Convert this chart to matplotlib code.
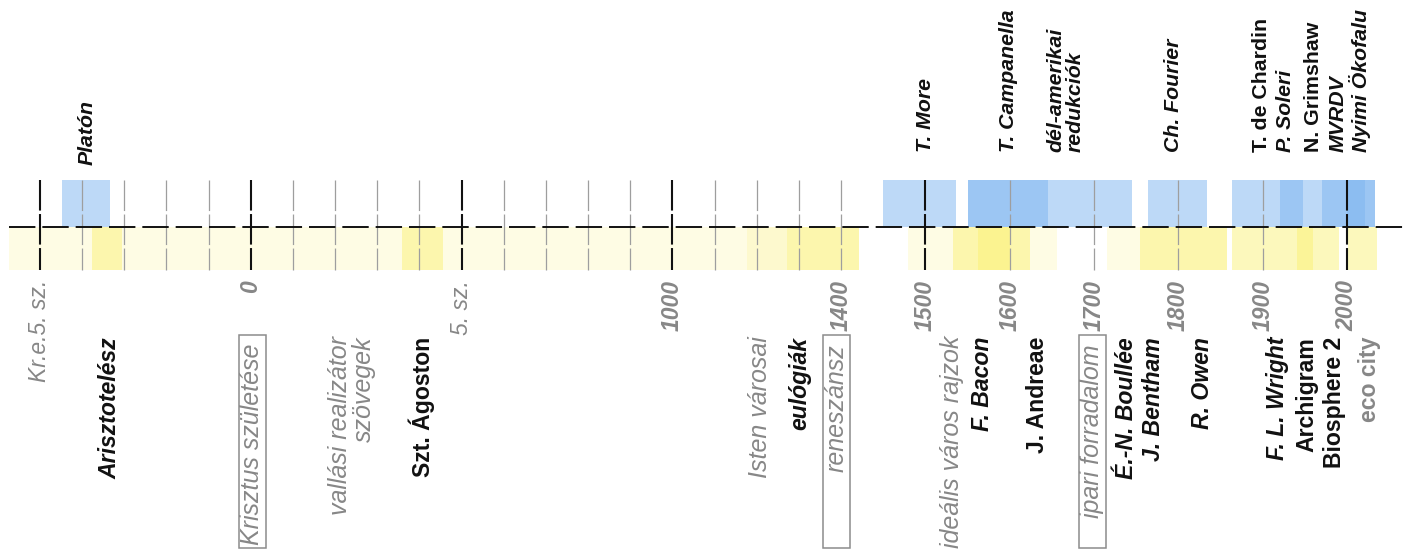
import numpy as np
import matplotlib
matplotlib.use("Agg")
import matplotlib.pyplot as plt
from matplotlib.patches import Rectangle

plt.rcParams['font.family'] = ['Liberation Sans', 'DejaVu Sans']
plt.rcParams['lines.scale_dashes'] = False

# ---------------- data ----------------
century_lines = [-500, -400, -300, -200, -100, 0, 100, 200, 300, 400, 500, 600, 700,
                 800, 900, 1000, 1100, 1200, 1300, 1400, 1500, 1600, 1700, 1800, 1900, 2000]
major_lines = [-500, 0, 500, 1000, 1500, 2000]

tick_years = [-500, 0, 500, 1000, 1400, 1500, 1600, 1700, 1800, 1900, 2000]
tick_labels = ['Kr.e.5. sz.', '0', '5. sz.', '1000', '1400', '1500', '1600', '1700',
               '1800', '1900', '2000']

# upper (blue) band spans
blue_start = [-448, 1450, 1550, 1550, 1764, 1864, 1921, 1970, 2000, 2000]
blue_end = [-334, 1536, 1645, 1745, 1834, 1948, 2033, 2000, 2033, 2021]

# lower (yellow) band spans; kind: 'k' = concept (pale), 'p' = person (stronger)
yellow_start = [-573, -377, 359, 1177, 1272, 1479, 1533, 1562, 1715, 1754, 1864, 1941, 1974, 2001]
yellow_end = [1272, -306, 456, 1421, 1421, 1656, 1600, 1624, 1858, 1858, 1960, 1974, 1990, 2036]
yellow_kind = ['k', 'p', 'p', 'k', 'p', 'k', 'p', 'p', 'k', 'p', 'p', 'p', 'p', 'p']

top_labels = ['Platón', 'T. More', 'T. Campanella', 'dél-amerikai\nredukciók', 'Ch. Fourier',
              'T. de Chardin', 'P. Soleri', 'N. Grimshaw', 'MVRDV', 'Nyimi Ökofalu']
top_years = [-389, 1500, 1598, 1666, 1794, 1899, 1927, 1960, 1990, 2016]

bottom_labels = ['Arisztotelész', 'Krisztus születése', 'vallási realizátor\nszövegek',
                 'Szt. Ágoston', 'Isten városai', 'eulógiák', 'reneszánsz',
                 'ideális város rajzok', 'F. Bacon', 'J. Andreae', 'ipari forradalom',
                 'É.-N. Boullée', 'J. Bentham', 'R. Owen', 'F. L. Wright', 'Archigram',
                 'Biosphere 2', 'eco city']
bottom_years = [-334, 3, 241, 406, 1208, 1302, 1389, 1531, 1568, 1633, 1698,
                1739, 1770, 1829, 1918, 1952, 1985, 2027]
bottom_kind = ['person', 'event', 'concept', 'person', 'concept', 'person', 'event',
               'concept', 'person', 'person', 'event', 'person', 'person', 'person',
               'person', 'person', 'person', 'concept_bold']

# ---------------- styles ----------------
BLUE = '#7db5f0'
YELLOW = '#faf171'
GREY = '#878787'
BLACK = '#111111'
upright = {'Szt. Ágoston', 'J. Andreae', 'Archigram', 'Biosphere 2', 'T. de Chardin',
           'N. Grimshaw', 'eco city'}
normal_ticks = {'Kr.e.5. sz.', '5. sz.'}


def fwd(y):
    y = np.asarray(y, dtype=float)
    return np.where(y <= 1400, y, 1400 + 2 * (y - 1400))


def inv(t):
    t = np.asarray(t, dtype=float)
    return np.where(t <= 1400, t, 1400 + (t - 1400) / 2)


fig = plt.figure(figsize=(14.04, 5.52), dpi=100)
ax = fig.add_axes([0, 0, 1, 1])
ax.set_xscale('function', functions=(fwd, inv))
ax.set_xlim(-594.87, 2067.6)
ax.set_ylim(552, 0)
ax.axis('off')

# bands
BLUE_TOP, BAND_MID, YEL_BOT = 180, 227, 270
for s, e in zip(blue_start, blue_end):
    ax.bar(s, BAND_MID - BLUE_TOP, width=e - s, bottom=BLUE_TOP, align='edge',
           color=BLUE, alpha=0.5, linewidth=0, antialiased=False, zorder=1)
for s, e, k in zip(yellow_start, yellow_end, yellow_kind):
    ax.bar(s, YEL_BOT - BAND_MID, width=e - s, bottom=BAND_MID, align='edge',
           color=YELLOW, alpha=0.19 if k == 'k' else 0.47, linewidth=0,
           antialiased=False, zorder=1)

# century lines
minor = [c for c in century_lines if c not in major_lines]
ax.vlines(minor, BLUE_TOP, YEL_BOT, colors='#9e9e9e', linewidth=0.9,
          linestyles=[(0, (22, 2.5))], zorder=3)
ax.vlines(major_lines, BLUE_TOP, YEL_BOT, colors='#111111', linewidth=1.5,
          linestyles=[(0, (22, 2.5))], zorder=4)

# central dashed axis line
ax.plot([yellow_start[0], ax.get_xlim()[1]], [BAND_MID, BAND_MID], color='#111111',
        linewidth=1.4, dashes=(19, 5), zorder=5, solid_capstyle='butt')

# tick labels
for yr, lab in zip(tick_years, tick_labels):
    ax.text(yr, 280, lab, rotation=90, ha='center', va='top', fontsize=16.5,
            color=GREY, fontstyle='italic',
            fontweight='normal' if lab in normal_ticks else 'bold')

# top labels
for yr, lab in zip(top_years, top_labels):
    ybase = 165 if lab == 'Platón' else 152
    ax.text(yr, ybase, lab, rotation=90, ha='center', va='bottom', fontsize=15.3,
            color=BLACK, fontweight='bold', multialignment='left',
            fontstyle='normal' if lab in upright else 'italic', linespacing=1.0)

# bottom labels
for yr, lab, kind in zip(bottom_years, bottom_labels, bottom_kind):
    style = 'normal' if lab in upright else 'italic'
    if kind == 'person':
        ax.text(yr, 337, lab, rotation=90, ha='center', va='top', fontsize=16.6,
                color=BLACK, fontweight='bold', fontstyle=style,
                multialignment='right')
    elif kind == 'concept':
        ax.text(yr, 336, lab, rotation=90, ha='center', va='top', fontsize=18,
                color=GREY, fontstyle=style, multialignment='right', linespacing=1.0)
    elif kind == 'concept_bold':
        ax.text(yr, 337, lab, rotation=90, ha='center', va='top', fontsize=16.6,
                color=GREY, fontweight='bold', fontstyle=style)
    else:  # boxed event
        ax.text(yr, 344, lab, rotation=90, ha='center', va='top', fontsize=18,
                color=GREY, fontstyle=style)
        cx = ax.transData.transform((yr, 0))[0]
        x0 = ax.transData.inverted().transform((cx - 13.5, 0))[0]
        x1 = ax.transData.inverted().transform((cx + 13.5, 0))[0]
        ax.add_patch(Rectangle((x0, 335), x1 - x0, 213, fill=False,
                               edgecolor='#8c8c8c', linewidth=1.1, zorder=6))

fig.savefig('out.png', dpi=100, facecolor='white')
